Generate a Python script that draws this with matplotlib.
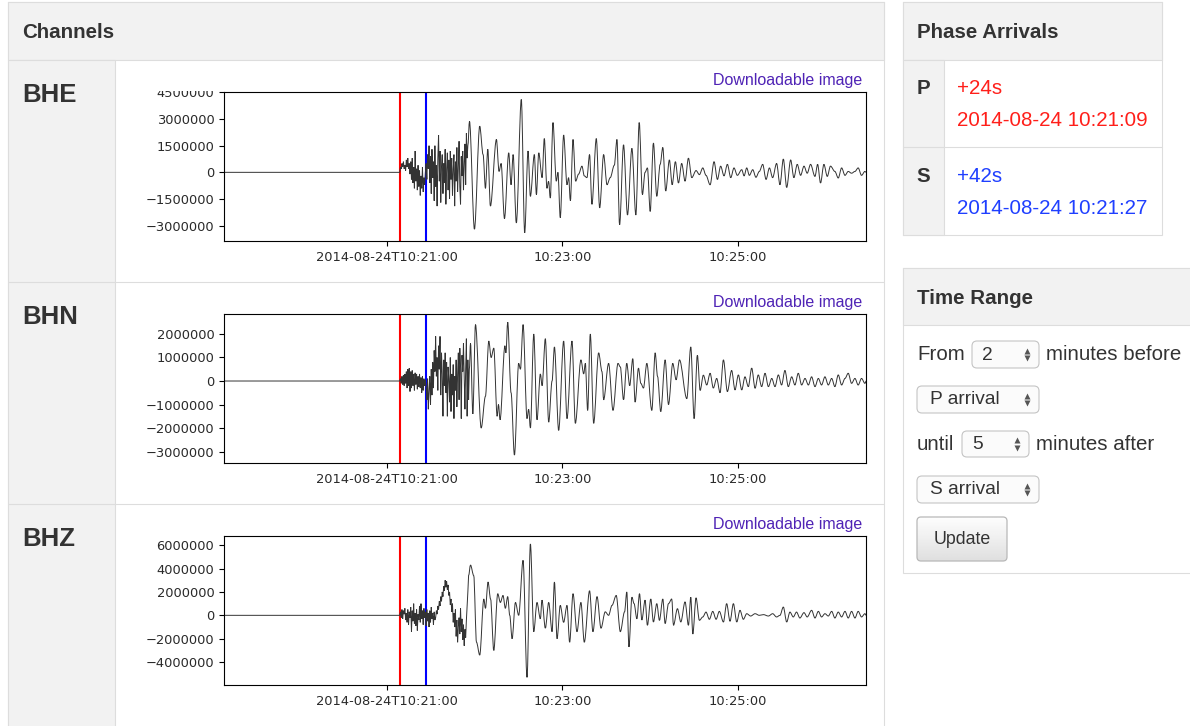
import matplotlib
matplotlib.use("Agg")
import matplotlib.pyplot as plt
import numpy as np
from matplotlib.patches import Rectangle, FancyBboxPatch, PathPatch
from matplotlib.path import Path
from matplotlib.ticker import FuncFormatter

# page size in pixels (figure drawn at 100 dpi)
W, H = 1190, 726

# times are seconds after 2014-08-24 10:21:00
P_ARRIVAL = 9
S_ARRIVAL = 27
WINDOW = (-111, 327)          # 2 min before P .. 5 min after S
TIME_TICKS = [0, 120, 240]
TIME_LABELS = ["2014-08-24T10:21:00", "10:23:00", "10:25:00"]

# first ~47 s after P, sampled every BURST_DT seconds (counts x 1e6)
BURST_DT = 0.5
BHE_BURST = [0.0, 0.3, 0.2, 0.5, 0.3, 0.6, 0.2, 0.4, 0.1, 0.7, 0.3, 0.8, 0.2, 0.5, -0.1, 0.6,
             -0.4, 0.8, -0.6, 0.3, -0.9, 1.2, -0.5, 0.2, -1.0, 0.4, -0.8, 0.1, -1.3, -0.2, -0.9, 0.3,
             -1.1, -0.3, -0.7, 0.0,
             0.5, -0.4, 1.0, 0.2, 1.5, -0.6, 0.9, -1.2, 1.3, -0.3, 0.6, -1.6, 1.5, -0.8, 0.4, -1.9,
             0.8, 2.1, -0.5, 1.2, -1.7, 0.3, 1.0, -1.2, 0.5, -0.6, 1.3,
             -1.8, 0.2, 1.1, -1.0, 0.7, -1.5, 1.2, -0.4, 0.8, -1.3, 0.2, 1.0, -1.9, 0.6, -0.5, 1.4,
             -1.1, 0.3, 1.75, -0.8, -1.8, 0.9, -0.2, 1.2, -1.0, 0.5, 1.6, -0.7, 2.2, 0.8, 1.5]
BHN_BURST = [0.0, 0.1, -0.1, 0.2, -0.15, 0.25, -0.2, 0.3, -0.1, 0.4, -0.3, 0.5, -0.2, 0.55, -0.45, 0.4,
             -0.3, 0.45, -0.2, 0.3, -0.4, 0.35, -0.15, 0.3, -0.35, 0.2, -0.25, 0.3, -0.3, 0.15, -0.5,
             0.2, -0.4, 0.1, -0.2, 0.05,
             -0.3, -0.8, 0.1, -1.2, -0.4, 0.2, -1.0, 0.5, -0.6, 0.8, -0.3, 1.3, 0.4, 1.9, 0.2, 1.0,
             -0.4, 1.5, 0.5, 1.9, -0.6, 1.2, 0.3, -1.5, 0.9, -0.2, 1.2,
             -0.5, 0.8, -1.5, 0.6, 0.1, -0.9, 1.0, -1.3, 0.3, -0.6, 0.7, -1.6, 0.2, -0.4, 0.9, -1.1,
             0.3, 1.2, -0.8, 1.4, 0.6, -1.6, 1.1, 0.4, 1.6, 0.2, -1.2, 0.5, 1.8, -1.5, 0.9, -0.8, 0.5]
BHZ_BURST = [0.0, 0.3, -0.2, 0.5, -0.3, 0.4, 0.1, 0.6, -0.4, 0.2, -0.6, 0.5, -0.8, 0.3, -0.2, 0.7,
             -1.4, 0.4, -0.5, 1.0, -0.7, 0.2, -0.9, 0.5, -1.3, 0.1, -0.4, 0.8, -0.6, 1.0, -0.3, 0.4,
             -0.8, 0.6, -0.2, 0.3, -0.9, 0.5, -0.5, 0.2, -1.0, 0.4, -0.6, 0.7, -0.3, 0.2, -0.8, 0.3, -0.4,
             -0.2, 0.4, 0.1, 0.8, 0.5, 1.2, 0.8, 1.6, 1.2, 2.0, 1.6, 2.5, 2.1, 3.0, 2.4, 2.9, 2.2, 2.6,
             1.7, 2.0, 0.9, 1.4, 0.3, 1.0, -0.6, 0.2, -1.0, 0.5, -1.8, -0.4, -2.3, -1.0, -0.2, -1.6,
             0.6, -1.4, -0.3, -2.1, -0.8, -2.6, -1.2, -1.9, -0.4, 0.8, 2.0, 3.4]

# surface-wave coda: turning points (time, counts x 1e6)
BHE_CODA_T = [56.6, 60.0, 63.6, 65.9, 67.5, 69.1, 70.9, 75.0, 76.8, 78.2, 80.5, 83.4, 85.0, 86.4, 88.6,
              92.0, 94.3, 96.6, 98.2, 100.9, 102.3, 103.9, 106.2, 107.7, 109.5, 110.6, 111.8, 113.6,
              115.9, 117.0, 118.6, 120.9, 123.2, 124.3, 125.5, 127.3, 129.1, 131.1, 133.4, 135.0,
              136.8, 138.6, 140.2, 143.2, 145.5, 148.2, 150.5, 152.7, 155.5, 157.3, 159.1, 161.8,
              164.5, 167.5, 170.2, 172.5, 174.7, 176.5, 178.1, 180.0, 182.2, 184.5, 186.8, 188.6,
              190.6, 193.1, 195.0, 197.2, 199.3, 201.5, 203.8, 206.1, 208.4, 211.3, 213.6, 215.9,
              218.1, 220.9, 223.6, 225.9, 228.1, 230.4, 232.7, 235.0, 237.2, 239.5, 242.5, 244.1,
              245.9, 247.7, 250.0, 252.2, 254.5, 256.8, 259.1, 261.4, 263.6, 266.3, 268.6, 270.9,
              273.2, 275.9, 278.1, 280.4, 282.7, 285.0, 287.2, 289.5, 292.5, 294.3, 296.3, 298.6,
              300.9, 303.1, 306.1, 308.4, 310.7, 313.0, 315.2, 317.5, 319.8, 322.0, 324.3, 326.6, 327.5]
BHE_CODA_V = [2.87, -3.2, 2.6, 1.0, -0.9, 1.3, -1.9, 1.85, 0.05, 0.5, -2.6, 1.1, -0.7, 1.0, -2.85,
              4.1, -3.4, 1.2, -1.35, 1.0, -1.25, 1.1, -0.3, 1.9, -0.9, -0.5, -1.45, 2.8,
              -0.5, 0.0, -2.55, 2.1, -0.7, -0.3, -1.6, 1.85, -0.5, -0.1, 0.35, -0.2,
              -0.3, 1.0, -1.8, 1.9, -2.0, 1.0, -0.7, -0.3, 0.4, 1.85, -2.95, 1.55,
              -2.4, 1.35, -2.4, 2.8, -1.25, 0.0, 0.25, -2.2, 1.65, -1.35, 0.45, 1.4,
              -1.05, 0.7, -0.7, 0.6, -0.6, 0.5, -0.5, 0.8, -0.3, 0.1, -0.13, 0.25,
              -0.17, -0.7, 0.6, -0.4, 0.35, -0.2, 0.45, -0.3, 0.25, -0.17, 0.15, -0.2,
              0.25, -0.17, 0.15, -0.28, 0.05, 0.45, -0.4, 0.25, -0.3, 0.5, -0.7, 0.75,
              -0.85, 0.7, -0.3, 0.45, -0.17, 0.35, -0.05, 0.45, -0.23, 0.45, -0.6, 0.45,
              -0.23, 0.35, 0.05, -0.32, 0.25, -0.17, 0.05, -0.05, 0.05, 0.25, -0.17, 0.05, 0.0]

BHN_CODA_T = [57.3, 58.9, 60.7, 64.6, 67.5, 69.8, 71.4, 73.2, 75.5, 76.4, 77.5, 80.8, 81.5, 82.7,
              85.0, 87.3, 90.2, 91.4, 93.2, 95.9, 97.0, 98.2, 100.5, 102.7, 105.0, 106.2, 108.4,
              110.7, 113.0, 114.6, 117.5, 120.9, 123.2, 126.6, 128.9, 132.7, 134.6, 135.7, 137.3,
              139.1, 141.4, 144.8, 147.1, 148.2, 151.6, 154.6, 158.0, 159.6, 161.8, 164.0, 166.0,
              168.1, 169.7, 172.0, 173.6, 175.4, 177.7, 181.1, 183.4, 185.0, 187.2, 190.2, 192.5,
              195.4, 197.7, 200.0, 205.0, 207.7, 210.0, 212.2, 214.1, 216.3, 218.6, 220.9, 223.1,
              225.4, 227.7, 230.0, 232.7, 235.6, 237.9, 240.2, 242.5, 244.7, 247.0, 249.3, 251.6,
              253.8, 256.1, 258.4, 260.7, 263.0, 265.2, 267.5, 269.7, 272.0, 274.3, 276.6, 278.8,
              281.1, 283.4, 285.7, 288.0, 290.2, 292.5, 294.8, 297.0, 299.3, 301.6, 303.9, 306.1,
              308.4, 310.7, 313.0, 315.2, 317.5, 319.8, 322.0, 324.3, 326.6, 327.5]
BHN_CODA_V = [1.6, -1.4, 2.4, -2.0, -0.65, 1.7, 1.0, 1.4, -1.5, -1.0, -1.65, 1.5, 1.2, 2.5,
              -0.5, -3.15, 0.75, 0.5, 2.4, -1.6, -1.2, -2.0, 2.0, -1.65, 0.3, -0.2, 1.8,
              -1.75, 0.0, 1.45, -2.1, 1.7, -1.6, 1.7, -1.8, 0.9, 0.3, 0.75, -1.25,
              2.0, -1.8, 1.2, 0.4, -0.8, 0.75, -1.25, 0.75, 0.6, -0.8, 0.75, -0.2,
              0.95, -0.9, 0.55, -0.1, -0.3, 0.75, -1.25, 1.2, 0.2, -1.3, 0.9, -1.0,
              0.75, 0.05, 0.9, -0.75, 1.45, -1.6, 1.1, -0.4, 0.25, -0.17, 0.33, -0.3,
              0.11, -0.5, 0.9, -0.45, 0.45, -0.38, 0.26, -0.38, 0.18, -0.24, 0.55, -0.31,
              0.26, -0.24, 0.33, -0.24, 0.11, -0.24, 0.26, -0.17, 0.45, -0.24, 0.18, -0.17,
              0.33, -0.17, 0.11, -0.17, 0.18, -0.24, 0.11, -0.17, 0.18, -0.17, 0.11, -0.24,
              0.26, -0.17, 0.11, 0.33, -0.1, 0.11, -0.17, 0.11, -0.1, 0.0]

BHZ_CODA_T = [57.3, 59.5, 61.4, 63.6, 66.4, 67.5, 69.3, 71.0, 73.2, 75.9, 77.7, 79.5, 81.1, 82.7,
              84.1, 85.7, 88.0, 90.2, 93.2, 95.9, 98.2, 100.5, 102.7, 105.0, 106.1, 108.4, 110.7,
              113.0, 114.6, 116.4, 118.6, 120.9, 123.2, 125.0, 127.3, 130.0, 132.7, 135.0, 138.6,
              140.9, 143.7, 146.4, 149.3, 151.6, 153.9, 156.8, 159.6, 162.5, 164.0, 165.5, 167.5,
              169.0, 170.9, 172.7, 174.3, 176.5, 178.1, 180.4, 182.2, 184.5, 186.3, 188.6, 190.2,
              192.5, 194.7, 195.9, 198.6, 200.9, 203.8, 206.1, 207.7, 209.1, 211.3, 213.6, 215.9,
              218.1, 220.4, 222.7, 225.0, 227.2, 230.0, 232.2, 234.5, 236.8, 239.1, 241.3, 243.6,
              245.9, 248.6, 251.6, 254.5, 257.3, 260.7, 263.6, 266.3, 268.6, 270.9, 273.2, 275.4,
              277.7, 279.9, 282.2, 285.0, 287.2, 290.2, 292.5, 294.8, 297.0, 299.3, 301.6, 303.9,
              306.1, 308.4, 310.7, 313.0, 315.2, 317.5, 319.8, 322.0, 324.3, 326.6, 327.5]
BHZ_CODA_V = [4.3, 3.4, -2.3, -3.4, 1.4, 0.6, 2.85, 1.4, -3.0, 1.85, 1.1, 1.7, 0.6, 1.6,
              0.0, -2.0, 1.1, 0.0, 4.7, -5.3, 6.1, -1.4, 1.1, -0.3, 1.3, -1.1, 1.1,
              -1.4, 2.85, -2.0, 0.85, -0.6, 0.85, -2.3, 1.85, -1.4, 1.1, -2.3, 2.1,
              -1.4, 1.6, -1.1, 0.3, 0.0, 0.85, 1.7, -1.4, 0.3, 2.0, -2.7, 1.55,
              1.0, -0.3, 1.85, -0.4, 1.3, -0.85, 1.4, -0.57, 1.0, -0.43, 1.4, -0.7,
              1.0, 1.4, -0.85, 0.57, -0.57, 1.15, -0.85, 1.55, -1.6, 1.5, -0.43, -0.14,
              0.28, -0.34, 0.34, -0.34, 0.34, -0.57, 1.0, -0.51, 1.0, -0.57, 0.43, -0.34,
              0.14, -0.06, 0.14, 0.0, 0.06, -0.06, 0.14, -0.14, 0.0, 0.71, -0.57, 0.28,
              -0.14, 0.28, -0.23, 0.23, -0.14, 0.43, -0.23, 0.34, -0.14, 0.14, -0.06, 0.34,
              -0.23, 0.28, -0.14, 0.34, -0.23, 0.34, -0.23, 0.34, -0.14, 0.14, 0.0]

# channel -> (burst, coda times, coda values, y limits, y ticks, row top in px)
CHANNELS = {
    "BHE": (BHE_BURST, BHE_CODA_T, BHE_CODA_V, (-3.88e6, 4.52e6),
            [-3000000, -1500000, 0, 1500000, 3000000, 4500000], 60),
    "BHN": (BHN_BURST, BHN_CODA_T, BHN_CODA_V, (-3.50e6, 2.85e6),
            [-3000000, -2000000, -1000000, 0, 1000000, 2000000], 282),
    "BHZ": (BHZ_BURST, BHZ_CODA_T, BHZ_CODA_V, (-5.98e6, 6.78e6),
            [-4000000, -2000000, 0, 2000000, 4000000, 6000000], 504),
}

PAGE_FONT = "Liberation Sans"
TEXT = "#333333"
BORDER = "#dddddd"
HEADER_BG = "#f2f2f2"

fig = plt.figure(figsize=(W / 100, H / 100), dpi=100)
fig.patch.set_facecolor("white")

# page layer in pixel coordinates, y down
bg = fig.add_axes([0, 0, 1, 1])
bg.set_xlim(0, W)
bg.set_ylim(H, 0)
bg.axis("off")


def box(x0, y0, x1, y1, fc="white", ec=BORDER, lw=0.8, z=1):
    bg.add_patch(Rectangle((x0, y0), x1 - x0, y1 - y0, facecolor=fc, edgecolor=ec, linewidth=lw, zorder=z))


def hline(y, x0, x1, z=3):
    bg.plot([x0, x1], [y, y], color=BORDER, lw=0.8, zorder=z, solid_capstyle="butt")


def label(x, y, s, size=14.8, color=TEXT, weight="normal", ha="left"):
    bg.text(x, y, s, fontsize=size, color=color, weight=weight, ha=ha, va="center",
            family=PAGE_FONT, zorder=5)


def smooth_trace(t, v):
    # cubic segments with flat tangents at each turning point
    verts = [(t[0], v[0])]
    for i in range(len(t) - 1):
        dt = (t[i + 1] - t[i]) / 3.0
        verts += [(t[i] + dt, v[i]), (t[i + 1] - dt, v[i + 1]), (t[i + 1], v[i + 1])]
    codes = [Path.MOVETO] + [Path.CURVE4] * (len(verts) - 1)
    return Path(verts, codes)


# --- Channels panel ---
box(8, 2, 884, 740)
box(8, 2, 884, 60, fc=HEADER_BG)
box(8, 60, 115, 740, fc=HEADER_BG)
for y in (282, 504):
    hline(y, 8, 884)
label(22, 33, "Channels", weight="bold")

# --- Phase Arrivals panel ---
box(903, 2, 1162, 235)
box(903, 2, 1162, 60, fc=HEADER_BG)
box(903, 60, 944, 235, fc=HEADER_BG)
hline(147, 903, 1162)
label(917, 33, "Phase Arrivals", weight="bold")
label(923, 89, "P", weight="bold", ha="center")
label(957, 89, "+%ds" % (P_ARRIVAL + 15), color="#ff1f1a")
label(957, 120, "2014-08-24 10:21:%02d" % P_ARRIVAL, color="#ff1f1a")
label(923, 177, "S", weight="bold", ha="center")
label(957, 177, "+%ds" % (S_ARRIVAL + 15), color="#1f3fff")
label(957, 208, "2014-08-24 10:21:%02d" % S_ARRIVAL, color="#1f3fff")

# --- Time Range panel ---
box(903, 268, 1200, 573)
box(903, 268, 1200, 325, fc=HEADER_BG)
label(917, 298, "Time Range", weight="bold")


def select(x0, y0, x1, y1, text, tx):
    bg.add_patch(FancyBboxPatch((x0, y0), x1 - x0, y1 - y0, boxstyle="round,pad=0,rounding_size=5",
                                facecolor="#fbfbfb", edgecolor="#c4c4c4", linewidth=0.8, zorder=4))
    label(tx, (y0 + y1) / 2 + 0.5, text, size=13.8)
    xa = x1 - 12
    yc = (y0 + y1) / 2
    bg.plot([xa], [yc - 3.6], marker="^", ms=4.6, color="#555555", mec="none", zorder=5)
    bg.plot([xa], [yc + 3.6], marker="v", ms=4.6, color="#555555", mec="none", zorder=5)


label(917, 354, "From")
select(972, 341, 1039, 368, "2", 982)
label(1046, 354, "minutes before")
select(917, 386, 1039, 413, "P arrival", 930)
label(917, 444, "until")
select(962, 431, 1029, 457, "5", 972)
label(1036, 444, "minutes after")
select(917, 476, 1039, 503, "S arrival", 930)

# Update button with a light vertical gradient
btn = FancyBboxPatch((917, 517), 90, 44, boxstyle="round,pad=0,rounding_size=4",
                     facecolor="none", edgecolor="#b8b8b8", linewidth=0.9, zorder=5)
bg.add_patch(btn)
grad = np.linspace(0.995, 0.875, 64).reshape(-1, 1)
im = bg.imshow(grad, extent=(917, 1007, 561, 517), cmap="gray", vmin=0, vmax=1,
               aspect="auto", zorder=4, interpolation="bilinear")
im.set_clip_path(btn)
bg.set_xlim(0, W)
bg.set_ylim(H, 0)
label(962, 540, "Update", size=12.8, ha="center")

# --- seismograms ---
fmt = FuncFormatter(lambda v, _: ("%d" % v).replace("-", "\u2212"))

for name, (burst, coda_t, coda_v, ylim, yticks, row_top) in CHANNELS.items():
    label(22, row_top + 35, name, size=18.5, weight="bold")
    bg.text(862, row_top + 21, "Downloadable image", fontsize=11.5, color="#4f23b5",
            ha="right", va="center", family=PAGE_FONT, zorder=5)

    top, bottom = row_top + 32, row_top + 181.3
    ax = fig.add_axes([224 / W, 1 - bottom / H, (865.5 - 224) / W, (bottom - top) / H])

    t = np.concatenate([[WINDOW[0], P_ARRIVAL],
                        P_ARRIVAL + BURST_DT * np.arange(len(burst)),
                        coda_t])
    v = np.concatenate([[0.0, 0.0], burst, coda_v]) * 1e6

    ax.axvline(P_ARRIVAL, color="red", lw=1.5, zorder=1)
    ax.axvline(S_ARRIVAL, color="blue", lw=1.5, zorder=1)
    ax.add_patch(PathPatch(smooth_trace(t, v), facecolor="none", edgecolor="#333333",
                           lw=0.7, zorder=2))

    ax.set_xlim(*WINDOW)
    ax.set_ylim(*ylim)
    ax.set_xticks(TIME_TICKS)
    ax.set_xticklabels(TIME_LABELS)
    ax.set_yticks(yticks)
    ax.yaxis.set_major_formatter(fmt)
    ax.tick_params(labelsize=9.4, labelcolor="#2a2a2a", length=3.5, width=0.8,
                   top=False, right=False, direction="out")
    for s in ax.spines.values():
        s.set_linewidth(0.8)

# the top BHE tick label is cut off by the image edge
cover = fig.add_axes([0, 0, 1, 1], zorder=10)
cover.set_xlim(0, W)
cover.set_ylim(H, 0)
cover.axis("off")
cover.add_patch(Rectangle((150, 82), 71, 8.5, facecolor="white", edgecolor="none"))

fig.savefig("out.png", dpi=100, facecolor="white")
